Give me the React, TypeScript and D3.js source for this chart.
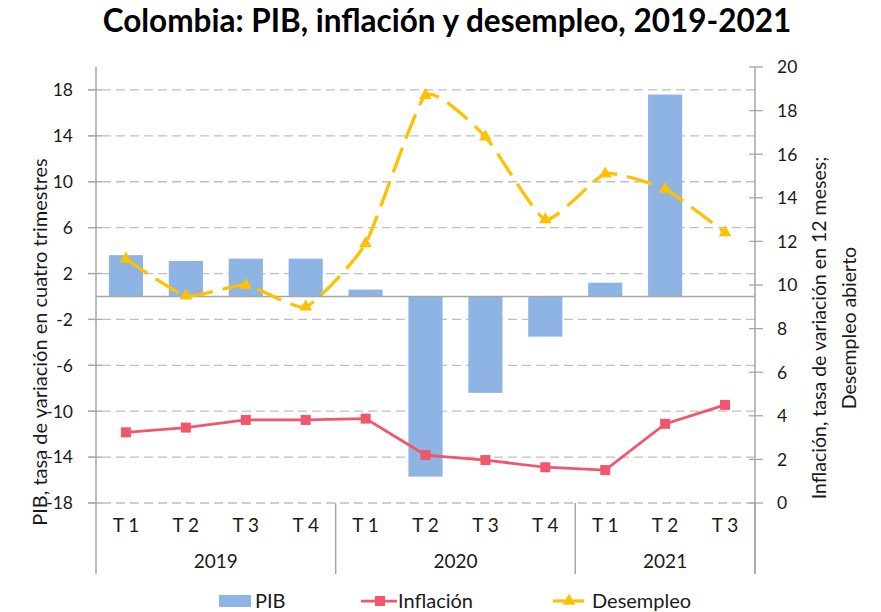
import React, { useEffect, useRef } from "react";
import * as d3 from "d3";

const WIDTH = 881;
const HEIGHT = 612;

const quarters = ["T 1", "T 2", "T 3", "T 4", "T 1", "T 2", "T 3", "T 4", "T 1", "T 2", "T 3"];
const years = ["2019", "2020", "2021"];
const quartersPerYear = [4, 4, 3];
const pib: (number | null)[] = [3.6, 3.1, 3.3, 3.3, 0.6, -15.7, -8.4, -3.5, 1.2, 17.6, null];
const inflacion = [3.24, 3.46, 3.81, 3.81, 3.87, 2.2, 1.97, 1.64, 1.51, 3.63, 4.5];
const desempleo = [11.2, 9.5, 10.0, 9.0, 11.9, 18.7, 16.8, 13.0, 15.1, 14.4, 12.4];
const leftTicks = [18, 14, 10, 6, 2, -2, -6, -10, -14, -18];
const rightTicks = [0, 2, 4, 6, 8, 10, 12, 14, 16, 18, 20];

const FONT = "Lato, 'Open Sans', sans-serif";
const TEXT = "#1a1a1a";
const AXIS = "#A6A6A6";
const GRID = "#BFBFBF";
const BAR = "#8DB4E2";
const RED = "#F2566C";
const GOLD = "#FFC000";

const App: React.FC = () => {
  const ref = useRef<SVGSVGElement>(null);

  useEffect(() => {
    if (!ref.current) return;
    const svg = d3.select(ref.current);
    svg.selectAll("*").remove();

    const left = 96;
    const right = 755;
    const top = 67;
    const bottom = 503;

    const idx = quarters.map((_, i) => i);
    const x = d3.scaleBand<number>().domain(idx).range([left, right]).paddingInner(0.43).paddingOuter(0.215);
    const cx = (i: number) => (x(i) as number) + x.bandwidth() / 2;
    const step = x.step();
    const yL = d3.scaleLinear().domain([-18, 20]).range([bottom, top]);
    const yR = d3.scaleLinear().domain([0, 20]).range([bottom, top]);

    // title
    svg.append("text")
      .attr("x", 447)
      .attr("y", 32)
      .attr("text-anchor", "middle")
      .style("font-family", FONT)
      .style("font-size", "31.5px")
      .style("font-weight", "bold")
      .attr("fill", "#000")
      .text("Colombia: PIB, inflación y desempleo, 2019-2021");

    // gridlines
    svg.append("g")
      .selectAll("line")
      .data(leftTicks)
      .enter()
      .append("line")
      .attr("x1", left - 8)
      .attr("x2", right)
      .attr("y1", (d) => yL(d))
      .attr("y2", (d) => yL(d))
      .attr("stroke", GRID)
      .attr("stroke-width", 1.3)
      .attr("stroke-dasharray", "9 5");

    // bars
    svg.append("g")
      .selectAll("rect")
      .data(pib.map((v, i) => ({ v, i })).filter((d) => d.v !== null))
      .enter()
      .append("rect")
      .attr("x", (d) => x(d.i) as number)
      .attr("width", x.bandwidth())
      .attr("y", (d) => yL(Math.max(0, d.v as number)))
      .attr("height", (d) => Math.abs(yL(d.v as number) - yL(0)))
      .attr("fill", BAR);

    // zero line
    svg.append("line")
      .attr("x1", left)
      .attr("x2", right)
      .attr("y1", yL(0))
      .attr("y2", yL(0))
      .attr("stroke", AXIS)
      .attr("stroke-width", 1.5);

    // left axis
    svg.append("line")
      .attr("x1", left).attr("x2", left)
      .attr("y1", top).attr("y2", bottom)
      .attr("stroke", AXIS).attr("stroke-width", 1.5);
    const lt = svg.append("g").selectAll("g").data(leftTicks).enter().append("g");
    lt.append("line")
      .attr("x1", left - 8).attr("x2", left + 6)
      .attr("y1", (d) => yL(d)).attr("y2", (d) => yL(d))
      .attr("stroke", AXIS).attr("stroke-width", 1.3);
    lt.append("text")
      .attr("x", 73)
      .attr("y", (d) => yL(d))
      .attr("dy", "0.36em")
      .attr("text-anchor", "end")
      .style("font-family", FONT)
      .style("font-size", "17.5px")
      .attr("fill", TEXT)
      .text((d) => `${d}`);

    // right axis
    svg.append("line")
      .attr("x1", right).attr("x2", right)
      .attr("y1", top).attr("y2", 574)
      .attr("stroke", AXIS).attr("stroke-width", 1.5);
    const rt = svg.append("g").selectAll("g").data(rightTicks).enter().append("g");
    rt.append("line")
      .attr("x1", right - 6).attr("x2", right + 8)
      .attr("y1", (d) => yR(d)).attr("y2", (d) => yR(d))
      .attr("stroke", AXIS).attr("stroke-width", 1.3);
    rt.append("text")
      .attr("x", 777)
      .attr("y", (d) => yR(d))
      .attr("dy", "0.36em")
      .style("font-family", FONT)
      .style("font-size", "17.5px")
      .attr("fill", TEXT)
      .text((d) => `${d}`);

    // category axis
    svg.append("g")
      .selectAll("text")
      .data(quarters)
      .enter()
      .append("text")
      .attr("x", (_, i) => cx(i))
      .attr("y", 532)
      .attr("text-anchor", "middle")
      .style("font-family", FONT)
      .style("font-size", "19px")
      .attr("fill", TEXT)
      .text((d) => d);

    let start = 0;
    const bounds = [0];
    quartersPerYear.forEach((n) => { start += n; bounds.push(start); });
    svg.append("g")
      .selectAll("line")
      .data(bounds)
      .enter()
      .append("line")
      .attr("x1", (d) => left + d * step)
      .attr("x2", (d) => left + d * step)
      .attr("y1", bottom)
      .attr("y2", 574)
      .attr("stroke", AXIS)
      .attr("stroke-width", 1.5);
    svg.append("g")
      .selectAll("text")
      .data(years)
      .enter()
      .append("text")
      .attr("x", (_, i) => left + ((bounds[i] + bounds[i + 1]) / 2) * step)
      .attr("y", 568)
      .attr("text-anchor", "middle")
      .style("font-family", FONT)
      .style("font-size", "19px")
      .attr("fill", TEXT)
      .text((d) => d);

    // inflation line
    const lineInf = d3.line<number>().x((_, i) => cx(i)).y((d) => yR(d));
    svg.append("path")
      .datum(inflacion)
      .attr("fill", "none")
      .attr("stroke", RED)
      .attr("stroke-width", 2.75)
      .attr("d", lineInf);
    svg.append("g")
      .selectAll("rect")
      .data(inflacion)
      .enter()
      .append("rect")
      .attr("x", (_, i) => cx(i) - 5)
      .attr("y", (d) => yR(d) - 5)
      .attr("width", 10)
      .attr("height", 10)
      .attr("fill", RED);

    // unemployment line (lightly smoothed, dashed)
    const lineDes = d3.line<number>().x((_, i) => cx(i)).y((d) => yR(d)).curve(d3.curveCardinal.tension(0.5));
    svg.append("path")
      .datum(desempleo)
      .attr("fill", "none")
      .attr("stroke", GOLD)
      .attr("stroke-width", 3.25)
      .attr("stroke-dasharray", "26 10")
      .attr("d", lineDes);
    const tri = d3.symbol().type(d3.symbolTriangle).size(70);
    svg.append("g")
      .selectAll("path")
      .data(desempleo)
      .enter()
      .append("path")
      .attr("transform", (d, i) => `translate(${cx(i)},${yR(d)})`)
      .attr("d", tri)
      .attr("fill", GOLD);

    // axis titles
    svg.append("text")
      .attr("transform", `translate(47,${342}) rotate(-90)`)
      .attr("text-anchor", "middle")
      .style("font-family", FONT)
      .style("font-size", "20px")
      .attr("fill", TEXT)
      .text("PIB, tasa de variación en cuatro trimestres");
    const rtTitle = svg.append("text")
      .attr("transform", `translate(826,${328}) rotate(-90)`)
      .attr("text-anchor", "middle")
      .style("font-family", FONT)
      .style("font-size", "19.5px")
      .attr("fill", TEXT);
    rtTitle.append("tspan").attr("x", 0).attr("dy", 0).text("Inflación, tasa de variación en 12 meses;");
    rtTitle.append("tspan").attr("x", 0).attr("dy", 30).text("Desempleo abierto");

    // legend
    const lg = svg.append("g").attr("transform", "translate(0,601)");
    lg.append("rect").attr("x", 219).attr("y", -6).attr("width", 32).attr("height", 12).attr("fill", BAR);
    lg.append("text").attr("x", 255).attr("y", 0).attr("dy", "0.36em")
      .style("font-family", FONT).style("font-size", "20px").attr("fill", TEXT).text("PIB");
    lg.append("line").attr("x1", 361).attr("x2", 397).attr("y1", 0).attr("y2", 0)
      .attr("stroke", RED).attr("stroke-width", 2.75);
    lg.append("rect").attr("x", 375).attr("y", -5).attr("width", 10).attr("height", 10).attr("fill", RED);
    lg.append("text").attr("x", 398).attr("y", 0).attr("dy", "0.36em")
      .style("font-family", FONT).style("font-size", "20px").attr("fill", TEXT).text("Inflación");
    lg.append("line").attr("x1", 553).attr("x2", 584).attr("y1", 0).attr("y2", 0)
      .attr("stroke", GOLD).attr("stroke-width", 3.25);
    lg.append("path").attr("transform", "translate(569,0)").attr("d", tri).attr("fill", GOLD);
    lg.append("text").attr("x", 592).attr("y", 0).attr("dy", "0.36em")
      .style("font-family", FONT).style("font-size", "20px").attr("fill", TEXT).text("Desempleo");
  }, []);

  return (
    <svg
      ref={ref}
      width={WIDTH}
      height={HEIGHT}
      viewBox={`0 0 ${WIDTH} ${HEIGHT}`}
      style={{ position: "absolute", left: 0, top: 0, background: "#fff", display: "block" }}
    />
  );
};

export default App;
